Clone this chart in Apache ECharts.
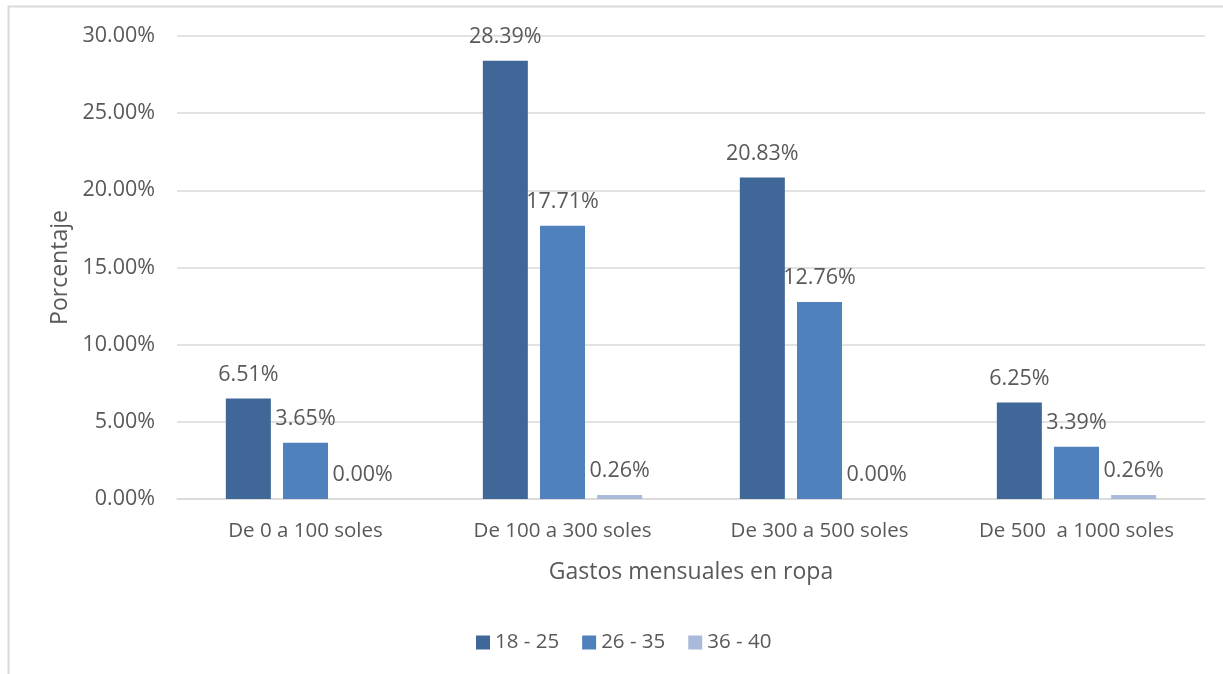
<!DOCTYPE html>
<html>
<head>
<meta charset="utf-8">
<script src="https://cdn.jsdelivr.net/npm/echarts@6/dist/echarts.min.js"></script>
<style>
html,body{margin:0;padding:0;background:#fff;}
#chart{width:1223px;height:674px;}
</style>
</head>
<body>
<div id="chart"></div>
<script>
var categories = ['De 0 a 100 soles', 'De 100 a 300 soles', 'De 300 a 500 soles', 'De 500  a 1000 soles'];
var seriesNames = ['18 - 25', '26 - 35', '36 - 40'];
var age18to25 = [6.51, 28.39, 20.83, 6.25];
var age26to35 = [3.65, 17.71, 12.76, 3.39];
var age36to40 = [0.00, 0.26, 0.00, 0.26];
var yTicks = { min: 0, max: 30, interval: 5 };
var colors = ['#3F6797', '#4F81BD', '#A9BADB'];

var FONT = '"Open Sans", sans-serif';
var TXT = '#595959';

var chart = echarts.init(document.getElementById('chart'));
function mkSeries(name, data, color) {
  return {
    name: name,
    type: 'bar',
    data: data,
    barGap: '27%',
    barCategoryGap: '38%',
    itemStyle: { color: color },
    label: {
      show: true,
      position: 'top',
      distance: 13,
      color: TXT,
      fontFamily: FONT,
      fontSize: 21.5,
      formatter: function (p) { return p.value.toFixed(2) + '%'; }
    }
  };
}
chart.setOption({
  animation: false,
  backgroundColor: '#fff',
  color: colors,
  graphic: [{
    type: 'rect',
    shape: { x: 8.5, y: 6.5, width: 1400, height: 800 },
    style: { fill: 'none', stroke: '#D9D9D9', lineWidth: 2 },
    silent: true,
    z: -1
  }],
  grid: { left: 177, right: 18, top: 36, bottom: 175 },
  legend: {
    data: seriesNames,
    top: 627,
    left: 471,
    icon: 'rect',
    itemWidth: 14,
    itemHeight: 14,
    itemGap: 23,
    textStyle: { color: TXT, fontFamily: FONT, fontSize: 20.5 }
  },
  xAxis: {
    type: 'category',
    data: categories,
    name: 'Gastos mensuales en ropa',
    nameLocation: 'middle',
    nameGap: 62,
    nameTextStyle: { color: TXT, fontFamily: FONT, fontSize: 23 },
    axisLine: { lineStyle: { color: '#D9D9D9', width: 1.5 } },
    axisTick: { show: false },
    axisLabel: { color: TXT, fontFamily: FONT, fontSize: 20.5, margin: 22 }
  },
  yAxis: {
    type: 'value',
    min: yTicks.min,
    max: yTicks.max,
    interval: yTicks.interval,
    name: 'Porcentaje',
    nameLocation: 'middle',
    nameGap: 104,
    nameTextStyle: { color: TXT, fontFamily: FONT, fontSize: 23 },
    axisLine: { show: false },
    axisTick: { show: false },
    splitLine: { lineStyle: { color: '#D9D9D9', width: 1.5 } },
    axisLabel: {
      color: TXT, fontFamily: FONT, fontSize: 21.5, margin: 22,
      formatter: function (v) { return v.toFixed(2) + '%'; }
    }
  },
  series: [
    mkSeries(seriesNames[0], age18to25, colors[0]),
    mkSeries(seriesNames[1], age26to35, colors[1]),
    mkSeries(seriesNames[2], age36to40, colors[2])
  ]
});
</script>
</body>
</html>
